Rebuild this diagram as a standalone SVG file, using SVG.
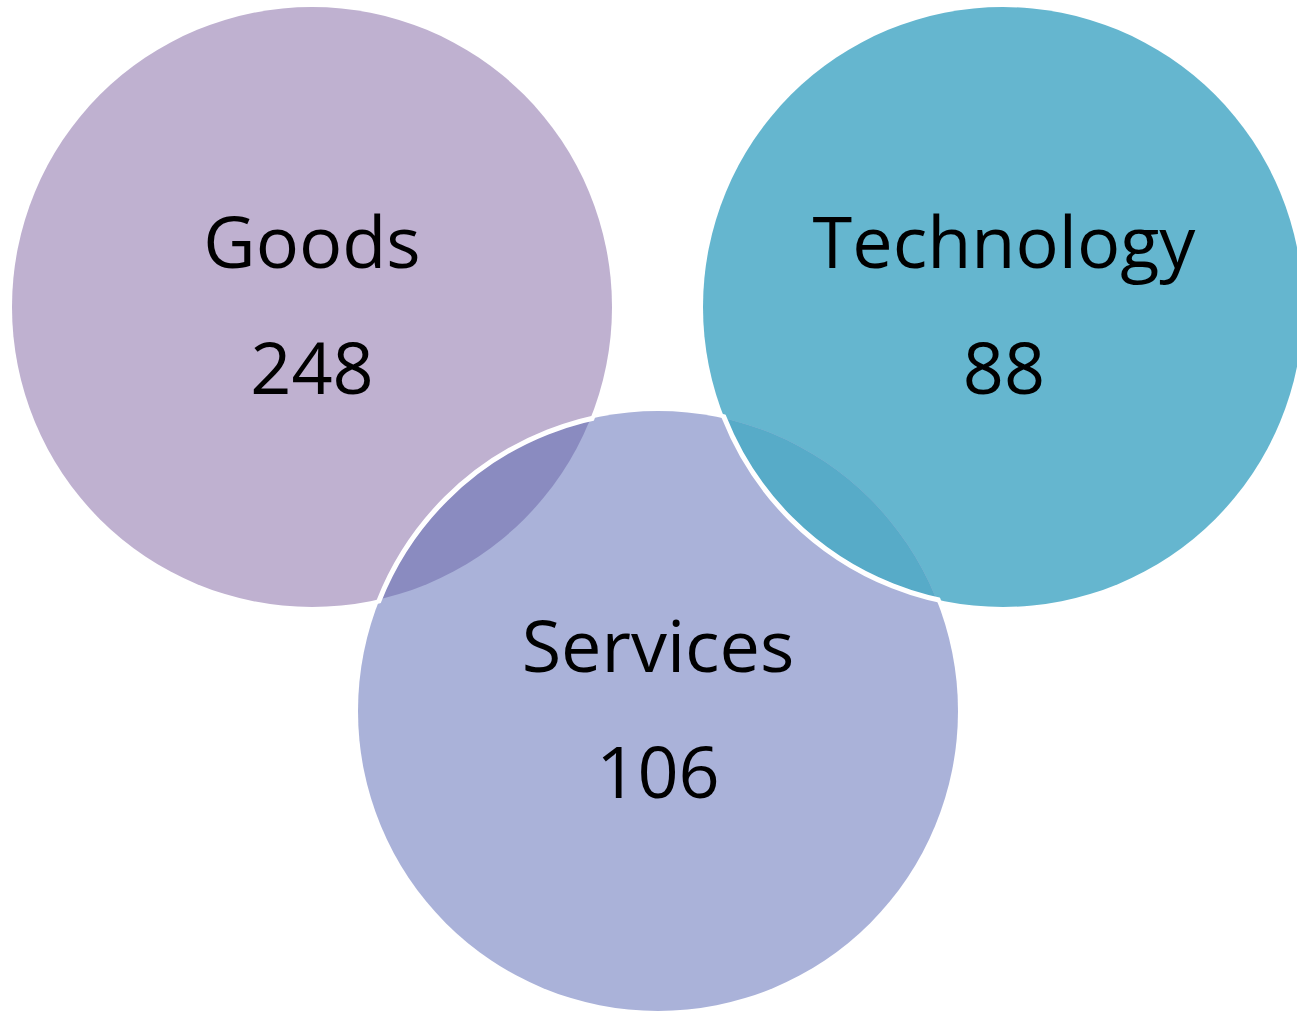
<svg xmlns="http://www.w3.org/2000/svg" width="1297" height="1011" viewBox="0 0 1297 1011">
  <style>
    .lbl { font-family: "Open Sans", "Noto Sans", sans-serif; font-size: 72px; fill: #000; text-anchor: middle; }
    .edge { fill: none; stroke: #fff; stroke-width: 5; }
  </style>
  <defs>
    <clipPath id="clipGoods"><circle cx="312" cy="307" r="300"/></clipPath>
    <clipPath id="clipServices"><circle cx="658" cy="711" r="300"/></clipPath>
    <clipPath id="clipGoodsWide"><circle cx="312" cy="307" r="304"/></clipPath>
    <clipPath id="clipServicesWide"><circle cx="658" cy="711" r="304"/></clipPath>
  </defs>
  <rect width="1297" height="1011" fill="#fff"/>
  <g id="goods">
    <circle cx="312" cy="307" r="300" fill="#BFB1D0"/>
  </g>
  <g id="technology">
    <circle cx="1003" cy="307" r="300" fill="#65B6CF"/>
  </g>
  <g id="services">
    <circle cx="658" cy="711" r="300" fill="#AAB2D9"/>
  </g>
  <g id="overlaps">
    <circle cx="658" cy="711" r="300" fill="#8A8BC0" clip-path="url(#clipGoods)"/>
    <circle cx="1003" cy="307" r="300" fill="#57ABC8" clip-path="url(#clipServices)"/>
    <circle class="edge" cx="658" cy="711" r="300" clip-path="url(#clipGoodsWide)"/>
    <circle class="edge" cx="1003" cy="307" r="300" clip-path="url(#clipServicesWide)"/>
  </g>
  <g id="labels">
    <text class="lbl" x="312" y="268">Goods</text>
    <text class="lbl" x="312" y="394">248</text>
    <text class="lbl" x="1004" y="268">Technology</text>
    <text class="lbl" x="1004" y="394">88</text>
    <text class="lbl" x="658" y="672">Services</text>
    <text class="lbl" x="658" y="798">106</text>
  </g>
</svg>
